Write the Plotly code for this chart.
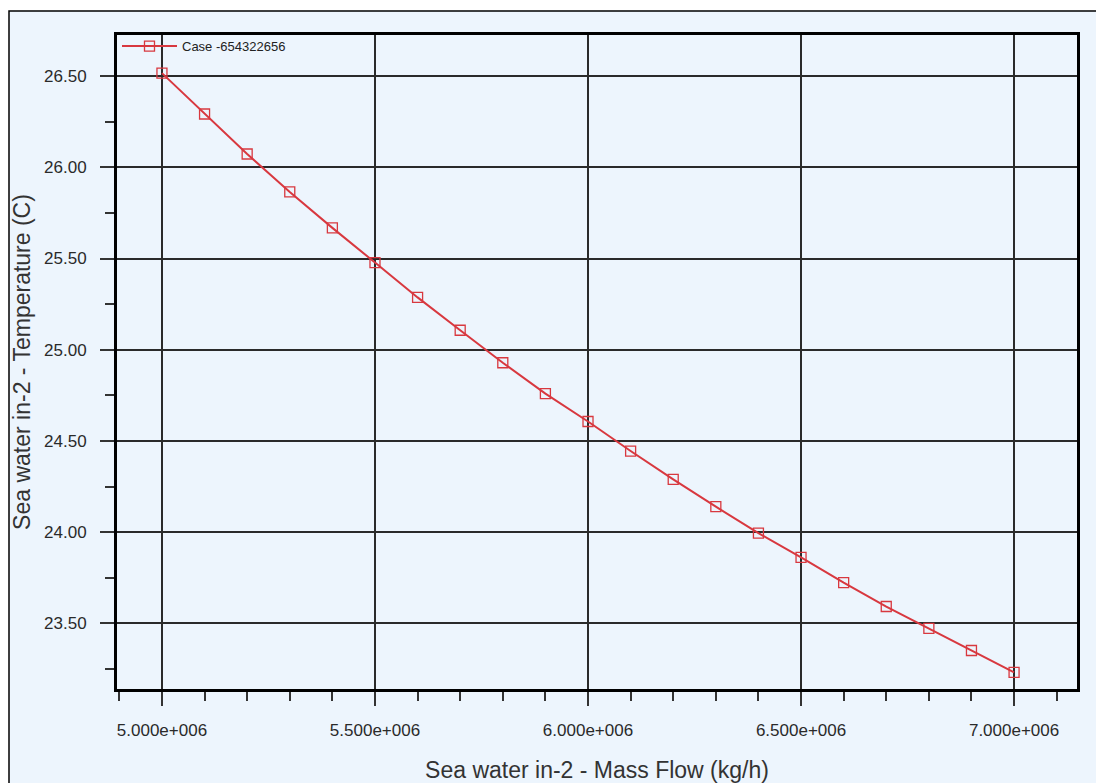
import plotly.graph_objects as go

# ---- data ----
mass_flow = [5.0e6, 5.1e6, 5.2e6, 5.3e6, 5.4e6, 5.5e6, 5.6e6, 5.7e6, 5.8e6, 5.9e6,
             6.0e6, 6.1e6, 6.2e6, 6.3e6, 6.4e6, 6.5e6, 6.6e6, 6.7e6, 6.8e6, 6.9e6, 7.0e6]
temperature = [26.516, 26.292, 26.073, 25.865, 25.668, 25.478, 25.287, 25.107, 24.929, 24.760,
               24.607, 24.445, 24.290, 24.140, 23.995, 23.862, 23.724, 23.593, 23.473, 23.352, 23.232]
series_name = "Case -654322656"

x_tick_vals = [5.0e6, 5.5e6, 6.0e6, 6.5e6, 7.0e6]
x_tick_text = ["5.000e+006", "5.500e+006", "6.000e+006", "6.500e+006", "7.000e+006"]
x_minor_vals = [4.9e6, 5.1e6, 5.2e6, 5.3e6, 5.4e6, 5.6e6, 5.7e6, 5.8e6, 5.9e6,
                6.1e6, 6.2e6, 6.3e6, 6.4e6, 6.6e6, 6.7e6, 6.8e6, 6.9e6, 7.1e6]
y_tick_vals = [23.5, 24.0, 24.5, 25.0, 25.5, 26.0, 26.5]
y_minor_vals = [23.25, 23.75, 24.25, 24.75, 25.25, 25.75, 26.25]

x_title = "Sea water in-2 - Mass Flow (kg/h)"
y_title = "Sea water in-2 - Temperature (C)"

BG = "#edf5fd"
RED = "#d8383f"
FONT = "Liberation Sans, Arial, sans-serif"

fig = go.Figure()
fig.add_trace(go.Scatter(
    x=mass_flow, y=temperature, name=series_name,
    mode="lines+markers",
    line=dict(color=RED, width=2),
    marker=dict(symbol="square-open", size=10, color=RED, line=dict(width=1.3, color=RED)),
    showlegend=True,
))

# the page body has an 8px margin, so the figure is sized/positioned accordingly
W, H = 1096, 775
L, R, T, B = 109, 27, 27, 94
pw, ph = W - L - R, H - T - B

# outer light-blue panel with black border
fig.add_shape(type="rect", xref="paper", yref="paper",
              x0=(1 - L) / pw, x1=(1091 - L) / pw,
              y0=(H - B - 800) / ph, y1=(H - B - 3) / ph,
              fillcolor=BG, line=dict(color="black", width=1.5), layer="below")

axis_common = dict(
    showline=True, linecolor="black", linewidth=3, mirror=True,
    showgrid=True, gridcolor="#2a2a2a", gridwidth=2,
    ticks="outside", ticklen=14, tickwidth=2, tickcolor="#333",
    tickfont=dict(family=FONT, size=17, color="#2a2a2a"),
    zeroline=False, automargin=False,
)

fig.update_xaxes(
    **axis_common,
    range=[4.8945e6, 7.1477e6],
    tickmode="array", tickvals=x_tick_vals, ticktext=x_tick_text,
    minor=dict(tickmode="array", tickvals=x_minor_vals, ticks="outside",
               ticklen=9, tickwidth=2, tickcolor="#333", showgrid=False),
    title=dict(text=x_title, font=dict(family=FONT, size=23, color="#333"), standoff=27),
    ticklabelstandoff=10,
)
fig.update_yaxes(
    **axis_common,
    range=[23.141, 26.725],
    tickmode="array", tickvals=y_tick_vals,
    ticktext=[f"{v:.2f}" for v in y_tick_vals],
    minor=dict(tickmode="array", tickvals=y_minor_vals, ticks="outside",
               ticklen=9, tickwidth=2, tickcolor="#333", showgrid=False),
    title=dict(text=y_title, font=dict(family=FONT, size=23, color="#333"), standoff=8),
    ticklabelstandoff=10,
)

fig.update_layout(
    width=W, height=H,
    margin=dict(l=L, r=R, t=T, b=B, pad=0),
    paper_bgcolor="white", plot_bgcolor=BG,
    font=dict(family=FONT, color="#222"),
    legend=dict(x=0.0, y=1.006, xanchor="left", yanchor="top",
                bgcolor="rgba(0,0,0,0)", font=dict(family=FONT, size=13, color="#222"),
                itemwidth=55),
)

fig.write_html("out.html")
